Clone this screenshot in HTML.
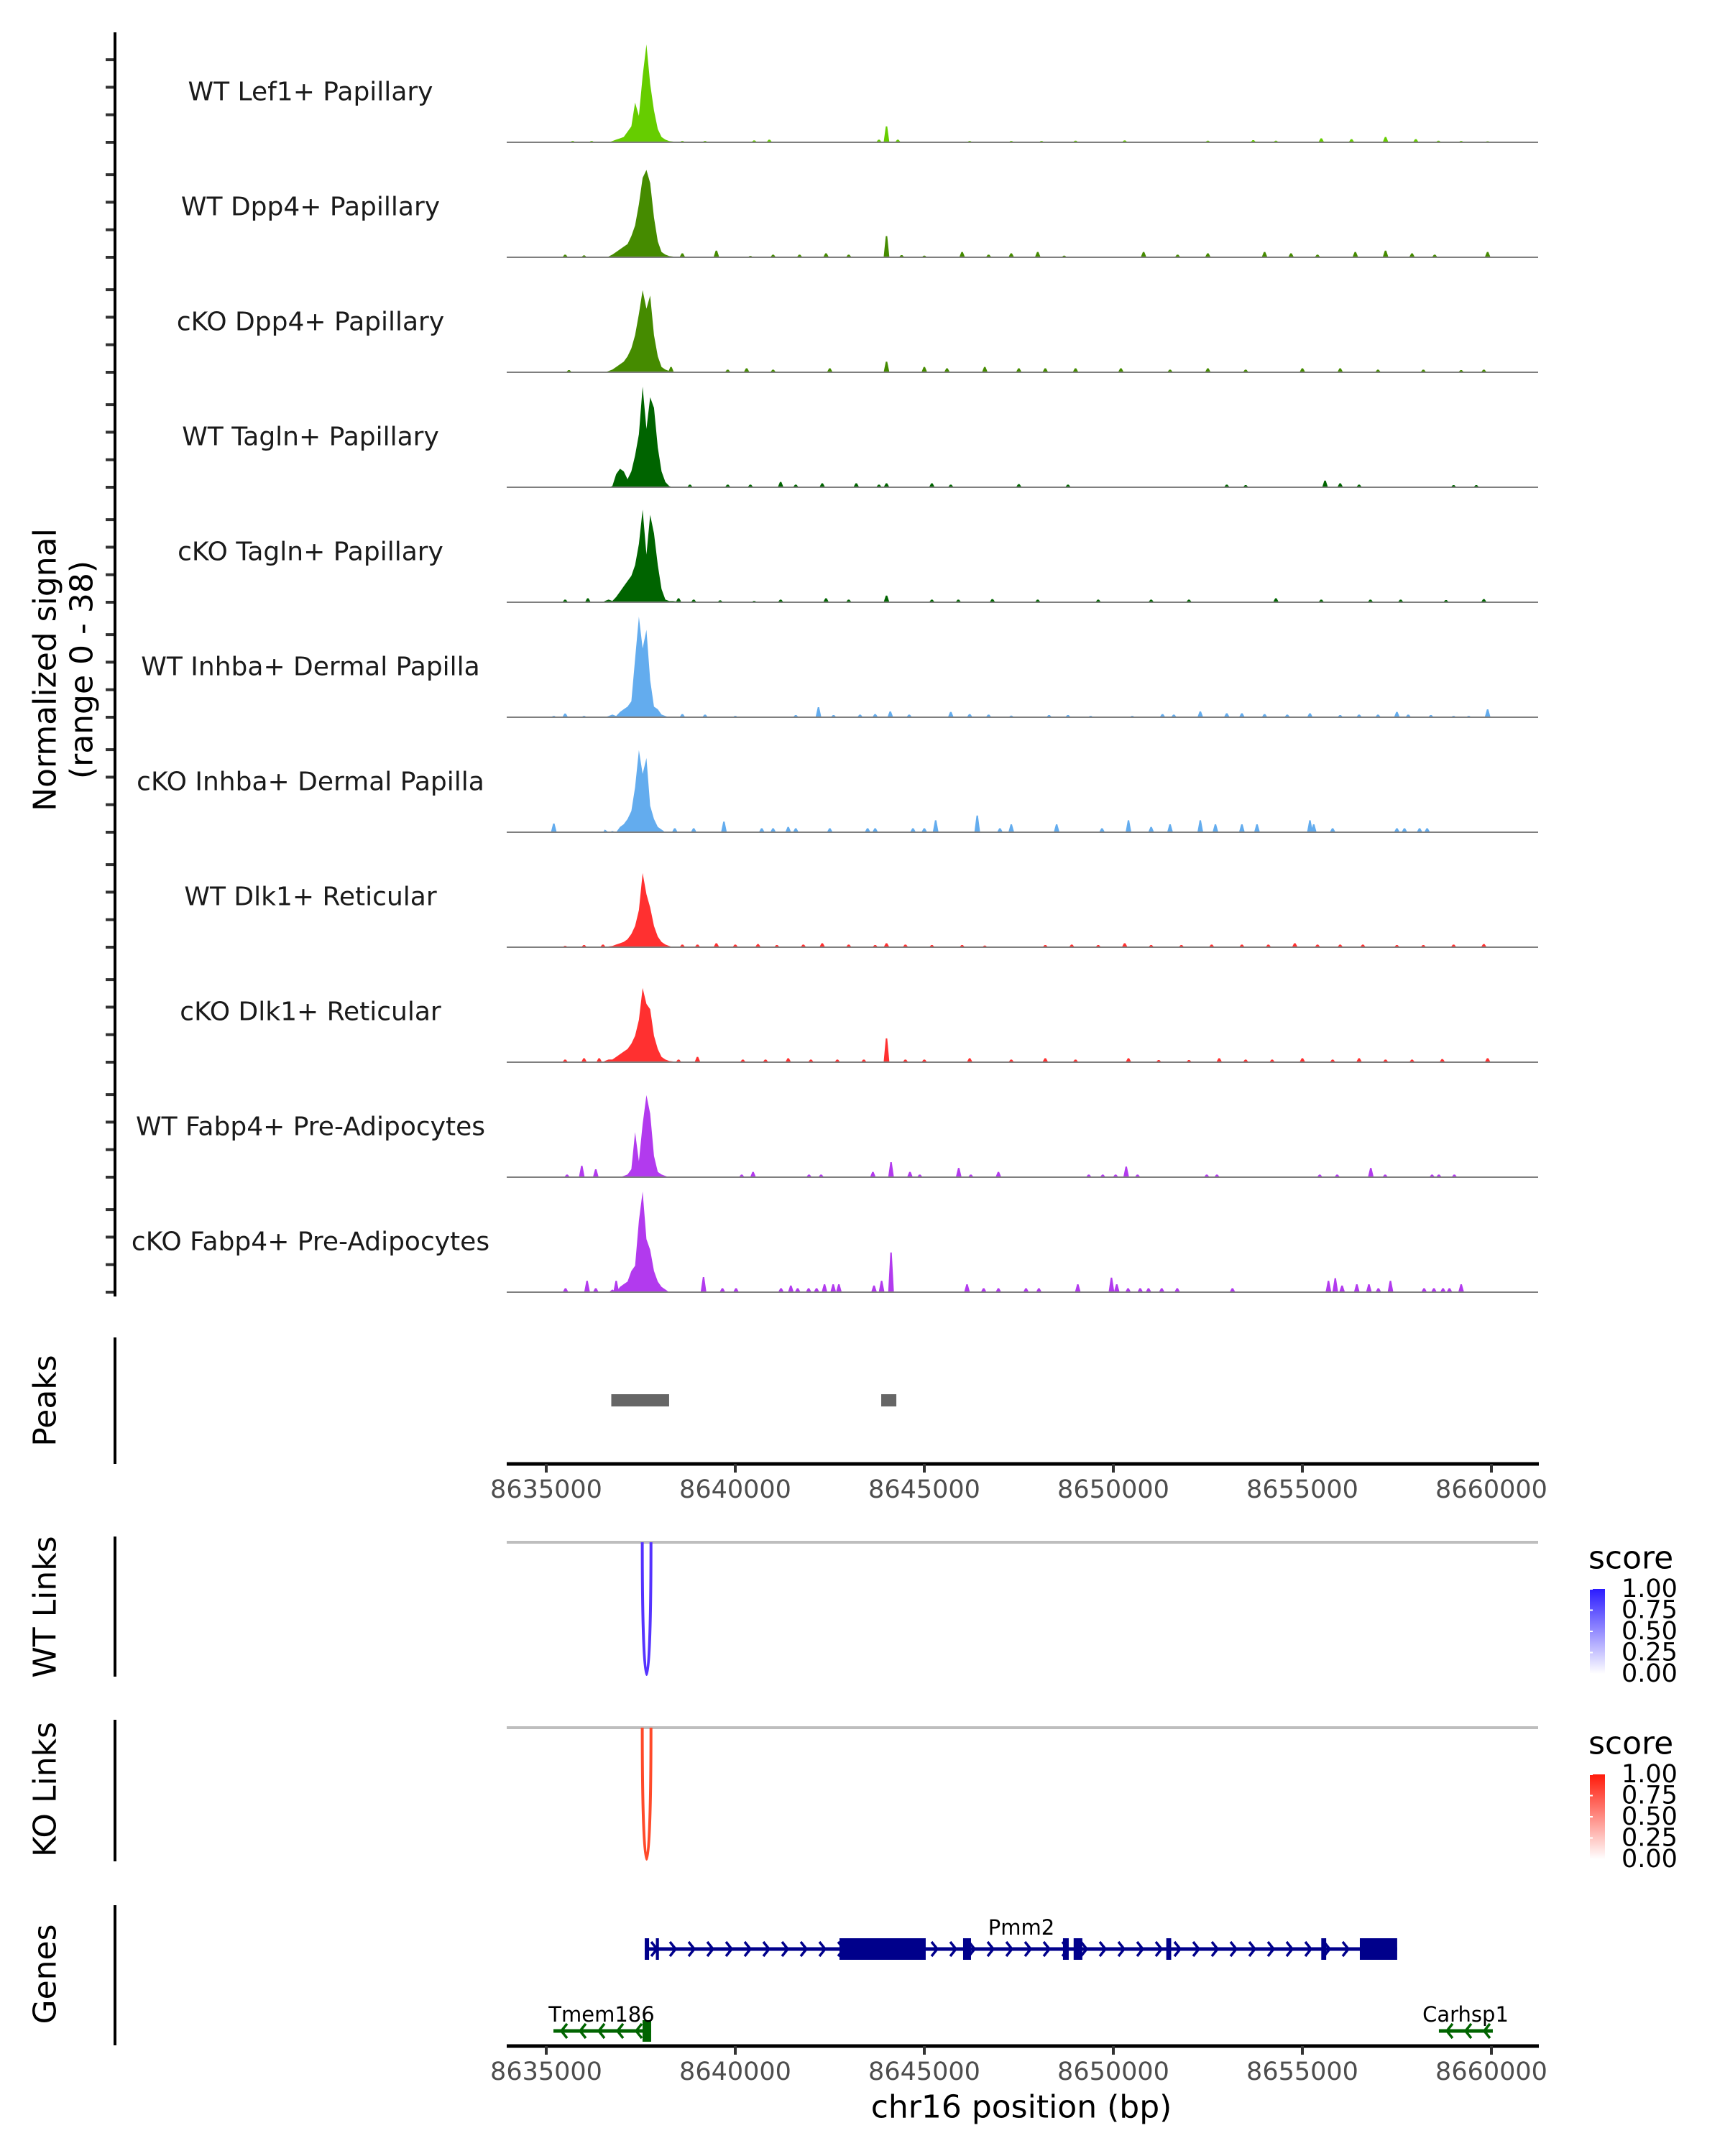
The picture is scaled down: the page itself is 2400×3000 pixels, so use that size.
<!DOCTYPE html>
<html><head><meta charset="utf-8">
<style>
html,body{margin:0;padding:0;background:#fff;}
svg{display:block;font-family:"DejaVu Sans","Liberation Sans",sans-serif;}
</style></head>
<body>
<svg id="chart" width="2400" height="3000" viewBox="0 0 2400 3000" xmlns="http://www.w3.org/2000/svg">
<rect x="0" y="0" width="2400" height="3000" fill="#fff"/>
<g id="g-main"></g>
</svg>
<script>
// ---------- data ----------
const trackNames = ["WT Lef1+ Papillary","WT Dpp4+ Papillary","cKO Dpp4+ Papillary","WT Tagln+ Papillary","cKO Tagln+ Papillary","WT Inhba+ Dermal Papilla","cKO Inhba+ Dermal Papilla","WT Dlk1+ Reticular","cKO Dlk1+ Reticular","WT Fabp4+ Pre-Adipocytes","cKO Fabp4+ Pre-Adipocytes"];
const trackColors = ["#66cd00","#458b00","#458b00","#006400","#006400","#63acee","#63acee","#ff3030","#ff3030","#b23aee","#b23aee"];
// main peak bins: centers 8636550 + 100*i
const mainBinStart = 8636550;
const mainBinStep = 100;
const mainLef1 = [0,0,0.5,1,1.5,2,4,6,15,10,25,37,22,12,5,2,1,0.5,0.3,0,0];
const mainWTDpp4 = [0,0.3,1,2,3,4,5,8,12,20,30,33,28,15,6,2,1,0.5,0.3,0,0];
const mainKODpp4 = [0,0.5,1,2,3,4,6,9,14,22,31,24,29,14,6,2,1,0.5,0.3,0,0];
const mainWTTagln = [0,0,0.5,5,7,6,3,6,12,20,38,22,34,30,15,6,2,0.5,0,0,0];
const mainKOTagln = [0.5,1,0.5,2,4,6,8,10,14,22,35,18,33,26,14,5,1,0.5,0.5,0.3,0];
const mainWTInhba = [0,0.5,1,0.5,2,3,4,6,22,38,26,33,14,4,3,1,0.5,0,0,0,0];
const mainKOInhba = [1,0,0.5,0,2,3,5,8,17,31,22,28,10,5,2,1,0,0,0,0,0];
const mainWTDlk1 = [0,0.3,0.5,1,1.5,2,3,5,8,14,28,20,15,8,4,2,1,0.5,0,0,0];
const mainKODlk1 = [0.5,1,1,2,3,4,5,7,10,16,28,22,20,10,5,2,1,0.5,0.3,0,0];
const mainWTFabp4 = [0,0,0,0,0,0.5,1,3,17,6,20,31,24,8,2,1,0.5,0,0,0,0];
const mainKOFabp4 = [0,0,1,0,2,3,4,8,10,27,38,20,16,8,4,2,1,0,0,0,0];
// small spikes: positions (kb) and heights
const spkPosLef1 = [8635.7,8636.2,8638.6,8639.2,8640.5,8640.9,8643.8,8644.0,8644.3,8646.2,8647.3,8648.1,8649.0,8650.3,8652.5,8653.7,8654.3,8655.5,8656.3,8657.2,8658.0,8658.6,8659.2,8659.9];
const spkValLef1 = [0.5,0.5,0.5,0.5,0.7,1,1,6,1,0.5,0.5,0.5,0.6,0.7,0.6,0.8,0.6,1.5,1.2,2,1.2,0.6,0.5,0.4];
const spkPosWTDpp4 = [8635.5,8636.0,8638.6,8639.5,8640.4,8641.0,8641.7,8642.4,8643.0,8644.0,8644.4,8645.0,8646.0,8646.7,8647.3,8648.0,8648.7,8650.8,8651.7,8652.5,8654.0,8654.7,8655.4,8656.4,8657.2,8657.9,8658.5,8659.9];
const spkValWTDpp4 = [1,0.7,1.5,2.5,0.5,1,1,1.5,1,8,0.8,0.6,2,1,1.5,2,0.6,2,1,1.5,2,1.5,1,2,2.5,1.5,1,2];
const spkPosKODpp4 = [8635.6,8638.3,8639.8,8640.3,8641.0,8642.5,8644.0,8645.0,8645.6,8646.6,8647.5,8648.2,8649.0,8650.2,8651.5,8652.5,8653.5,8655.0,8656.0,8657.0,8658.2,8659.2,8659.8];
const spkValKODpp4 = [0.8,2,1,1.5,1,1.5,4,2,1.5,2,1.5,1.5,1.5,1.5,1,1.5,1,1.5,1.5,1,1,0.8,1];
const spkPosWTTagln = [8638.8,8639.8,8640.4,8641.2,8641.6,8642.3,8643.2,8643.8,8644.0,8645.2,8645.7,8647.5,8648.8,8653.0,8653.5,8655.6,8656.0,8656.5,8659.0,8659.6];
const spkValWTTagln = [1,1,1,2,1,1.5,1.5,1,1.5,1.5,1,1.2,1,1,0.8,2.5,1.5,1,0.8,0.8];
const spkPosKOTagln = [8635.5,8636.1,8638.5,8638.9,8639.6,8640.5,8641.2,8642.4,8643.0,8644.0,8645.2,8645.9,8646.8,8648.0,8649.6,8651.0,8652.0,8654.3,8655.5,8656.8,8657.6,8658.8,8659.8];
const spkValKOTagln = [1,1.5,1.5,1,0.7,0.5,1,1.5,1,2.5,1,1,1.2,1,1,1,1,1.5,1,1,1,0.8,1.2];
const spkPosWTInhba = [8635.2,8635.5,8636.0,8638.6,8639.2,8640.0,8641.6,8642.2,8642.6,8643.3,8643.7,8644.1,8644.6,8645.7,8646.2,8646.7,8647.3,8648.3,8648.8,8649.4,8650.5,8651.3,8651.6,8652.3,8653.0,8653.4,8654.0,8654.6,8655.2,8656.0,8656.5,8657.0,8657.5,8657.8,8658.4,8659.0,8659.4,8659.9];
const spkValWTInhba = [0.5,1.4,0.5,1.2,1,0.5,0.8,3.8,0.8,1,1.2,2.2,1,2,1.2,1,0.6,0.8,0.8,0.5,0.5,1.2,1,2.2,1.5,1.5,1.2,1,1.5,0.8,1,1,2,1,0.8,0.5,0.5,3];
const spkPosKOInhba = [8635.2,8638.4,8638.9,8639.7,8640.7,8641.0,8641.4,8641.6,8642.5,8643.5,8643.7,8644.7,8645.0,8645.3,8646.4,8647.0,8647.3,8648.5,8649.7,8650.4,8651.0,8651.5,8652.3,8652.7,8653.4,8653.8,8655.2,8655.3,8655.8,8657.5,8657.7,8658.1,8658.3];
const spkValKOInhba = [3.3,1.5,1.5,4,1.5,1.5,2,1.5,1.5,1.5,1.5,1.5,1.5,4.5,6.3,1.5,3,3,1.5,4.5,2,3,4.5,3,3,3,4.5,3,1.5,1.5,1.5,1.5,1.5];
const spkPosWTDlk1 = [8635.5,8636.0,8636.5,8638.6,8639.0,8639.5,8640.0,8640.6,8641.1,8641.8,8642.3,8643.0,8643.7,8644.0,8644.5,8645.2,8646.0,8646.6,8648.2,8648.9,8649.6,8650.3,8651.0,8651.8,8652.6,8653.4,8654.1,8654.8,8655.4,8656.0,8656.6,8657.5,8658.2,8659.0,8659.8];
const spkValWTDlk1 = [0.5,0.8,1,1,1,1.5,1,1.2,0.8,1,1.5,1,0.8,1.5,1,0.8,0.8,0.6,0.8,1,0.8,1.5,0.8,0.8,1,1,1,1.5,1,1,1,0.8,0.8,1,1.2];
const spkPosKODlk1 = [8635.5,8636.0,8636.4,8638.5,8639.0,8640.2,8640.8,8641.4,8642.0,8642.7,8643.4,8644.0,8644.5,8645.0,8646.2,8647.3,8648.2,8649.0,8650.4,8651.2,8652.0,8652.8,8653.5,8654.2,8655.0,8655.8,8656.5,8657.2,8657.9,8658.7,8659.9];
const spkValKODlk1 = [1,1.5,1.5,1,2,1,1,1.5,1,1,1,9,1,1,1.5,1,1.5,1,1.5,0.8,0.8,1.5,1,1,1.5,1,1.5,1,1,1.2,1.5];
const spkPosWTFabp4 = [8635.55,8635.94,8636.31,8640.17,8640.47,8641.95,8642.27,8643.64,8644.12,8644.62,8644.88,8645.91,8646.23,8646.96,8649.35,8649.72,8650.06,8650.34,8650.64,8652.47,8652.74,8655.46,8655.92,8656.81,8657.19,8658.43,8658.61,8659.02];
const spkValWTFabp4 = [1,4.3,3,1,2,1,1,2,5.7,2,1,3.5,1,2,1,1,1,4,1,1,1,1,1,3.5,1,1,1,1];
const spkPosKOFabp4 = [8635.51,8636.08,8636.31,8636.85,8639.16,8639.66,8640.02,8641.21,8641.47,8641.65,8641.94,8642.15,8642.36,8642.59,8642.74,8643.67,8643.87,8644.12,8646.13,8646.57,8646.96,8647.69,8648.03,8649.06,8649.95,8650.09,8650.39,8650.71,8650.93,8651.28,8651.69,8653.15,8655.69,8655.87,8656.05,8656.44,8656.76,8657.01,8657.33,8658.22,8658.48,8658.72,8658.89,8659.2];
const spkValKOFabp4 = [1.5,4.3,1.5,4.3,5.7,1.5,1.5,1.5,2.5,1.5,1.5,1.5,3,3,3,2.5,4.3,15,3,1.5,1.5,1.5,1.5,3,5.5,3,1.5,1.5,1.5,1.5,1.5,1.5,4.3,5.3,2.5,3,3,1.5,4.3,1.5,1.5,1.5,1.5,3];
const mainProfiles = [mainLef1,mainWTDpp4,mainKODpp4,mainWTTagln,mainKOTagln,mainWTInhba,mainKOInhba,mainWTDlk1,mainKODlk1,mainWTFabp4,mainKOFabp4];
const spikePositions = [spkPosLef1,spkPosWTDpp4,spkPosKODpp4,spkPosWTTagln,spkPosKOTagln,spkPosWTInhba,spkPosKOInhba,spkPosWTDlk1,spkPosKODlk1,spkPosWTFabp4,spkPosKOFabp4];
const spikeValues = [spkValLef1,spkValWTDpp4,spkValKODpp4,spkValWTTagln,spkValKOTagln,spkValWTInhba,spkValKOInhba,spkValWTDlk1,spkValKODlk1,spkValWTFabp4,spkValKOFabp4];
const peakStarts = [8636720, 8643860];
const peakEnds = [8638250, 8644260];
const xTicks = [8635000,8640000,8645000,8650000,8655000,8660000];
const linkStartWT = [8637540]; const linkEndWT = [8637770]; const linkScoreWT = [0.85];
const linkStartKO = [8637540]; const linkEndKO = [8637770]; const linkScoreKO = [0.85];
const legendTicks = ["1.00","0.75","0.50","0.25","0.00"];
const pmm2Exons = [[8637605,8637720],[8637900,8637980],[8642756,8645037],[8646026,8646235],[8648668,8648820],[8648950,8649180],[8651400,8651530],[8655500,8655630],[8656520,8657508]];
const pmm2Range = [8637605, 8657508];
const tmemRange = [8635190, 8637775];
const tmemExons = [[8637547,8637775]];
const carRange = [8658611, 8660037];
const carExons = [];

// ---------- scales ----------
const X0 = 760, PX_PER_BP = 1315/25000;
function xs(bp){ return X0 + (bp - 8635000)*PX_PER_BP; }
const UNIT = 140/38;
function baseY(i){ return 198 + 160*i; }
const NS = "http://www.w3.org/2000/svg";
const g = document.getElementById('g-main');
function mk(tag, attrs, parent){ const e=document.createElementNS(NS,tag); for(const k in attrs) e.setAttribute(k,attrs[k]); (parent||g).appendChild(e); return e; }

// ---------- signal tracks ----------
for(let i=0;i<trackNames.length;i++){
  const b = baseY(i);
  const col = trackColors[i];
  const tg = mk('g',{});
  
  
  // main peak
  let pts = [];
  const prof = mainProfiles[i];
  pts.push([xs(mainBinStart-50), b]);
  for(let k=0;k<prof.length;k++){ pts.push([xs(mainBinStart+k*mainBinStep), b - prof[k]*UNIT]); }
  pts.push([xs(mainBinStart+(prof.length-1)*mainBinStep+50), b]);
  const mp = mk('polygon',{points: pts.map(p=>p[0].toFixed(1)+','+p[1].toFixed(1)).join(' '), fill: col}, tg);
  
  
  // spikes
  const sp = spikePositions[i], sv = spikeValues[i];
  for(let k=0;k<sp.length;k++){
    const cx = xs(sp[k]*1000), h = sv[k]*UNIT;
    const s = mk('polygon',{points: (cx-4)+','+b+' '+(cx-1)+','+(b-h)+' '+(cx+1)+','+(b-h)+' '+(cx+4)+','+b, fill: col}, tg);
    
    
  }
  const bl = mk('line',{x1:705,x2:2140,y1:b,y2:b,stroke:'#7f7f7f','stroke-width':2}, tg);
  
  
  const lt = mk('text',{x:432,y:b-70,'font-size':36,'text-anchor':'middle','dominant-baseline':'central',fill:'#1a1a1a'}, tg);
  lt.textContent = trackNames[i];
  
  
  for(let t=0;t<4;t++){
    const ty = b - t*38.3;
    const tk = mk('line',{x1:147,x2:160,y1:ty,y2:ty,stroke:'#333','stroke-width':4}, tg);
    
    
  }
}
function vline(x,y1,y2,name){ const l=mk('line',{x1:x,x2:x,y1:y1,y2:y2,stroke:'#000','stroke-width':4});   return l; }
vline(160,45,1804,'signal-y-axis');
function rotLabel(text,x,y,name,size){ const t=mk('text',{x:0,y:0,'font-size':size||44,'text-anchor':'middle','dominant-baseline':'central',fill:'#000',transform:'translate('+x+','+y+') rotate(-90)'}); t.textContent=text;   return t; }
rotLabel('Normalized signal',63,932,'y-axis-title-line1');
rotLabel('(range 0 - 38)',114,932,'y-axis-title-line2');

// ---------- peaks ----------
vline(160,1861,2037,'peaks-y-axis');
rotLabel('Peaks',63,1949,'peaks-label');
for(let k=0;k<peakStarts.length;k++){
  const r = mk('rect',{x:xs(peakStarts[k]),y:1940,width:xs(peakEnds[k])-xs(peakStarts[k]),height:17,fill:'#666666'});
  
  
}
function xAxis(y, nameBase){
  const a = mk('line',{x1:705,x2:2141,y1:y,y2:y,stroke:'#000','stroke-width':5});
  
  
  for(const t of xTicks){
    const tk = mk('line',{x1:xs(t),x2:xs(t),y1:y,y2:y+12,stroke:'#333','stroke-width':4});
    
    
    const tl = mk('text',{x:xs(t),y:y+36,'font-size':35,'text-anchor':'middle','dominant-baseline':'central',fill:'#4d4d4d'});
    tl.textContent = String(t);
    
    
  }
}
xAxis(2037,'peaks-x-axis');

// ---------- links ----------
function linksPanel(top, bottom, starts, ends, color, gradTop, legendY, label, labelY, axisTop, axisBottom, gid){
  vline(160,axisTop,axisBottom,label.replace(' ','-').toLowerCase()+'-y-axis');
  rotLabel(label,63,labelY,label.replace(' ','-').toLowerCase()+'-label');
  const gl = mk('line',{x1:705,x2:2140,y1:top,y2:top,stroke:'#bebebe','stroke-width':4});
  
  
  for(let k=0;k<starts.length;k++){
    const x1=xs(starts[k]), x2=xs(ends[k]);
    const cy = top + (bottom-top)/0.75;
    const p = mk('path',{d:'M'+x1+','+top+' C'+x1+','+cy+' '+x2+','+cy+' '+x2+','+top,fill:'none',stroke:color,'stroke-width':4});
    
    
  }
  const defs = mk('defs',{});
  const lg = mk('linearGradient',{id:gid,x1:0,y1:0,x2:0,y2:1},defs);
  mk('stop',{offset:0,'stop-color':gradTop},lg);
  mk('stop',{offset:1,'stop-color':'#ffffff'},lg);
  const lt = mk('text',{x:2210,y:legendY,'font-size':44,'dominant-baseline':'central',fill:'#000'});
  lt.textContent='score';
  
  
  const by = legendY+43;
  const bar = mk('rect',{x:2212,y:by,width:21,height:118,fill:'url(#'+gid+')'});
  
  
  for(let k=0;k<legendTicks.length;k++){
    const ty = by + k*29.5;
    const t = mk('text',{x:2256,y:ty,'font-size':35,'dominant-baseline':'central',fill:'#000'});
    t.textContent = legendTicks[k];
    
    
    const tk1 = mk('line',{x1:2212,x2:2216,y1:ty,y2:ty,stroke:'#fff','stroke-width':2});
    
    
  }
}
linksPanel(2146,2330,linkStartWT,linkEndWT,'#5533ff','#2b1bff',2168,'WT Links',2236,2138,2333,'gradWT');
linksPanel(2404,2587,linkStartKO,linkEndKO,'#ff4a2a','#ff1a0a',2426,'KO Links',2490,2393,2590,'gradKO');

// ---------- genes ----------
vline(160,2651,2846,'genes-y-axis');
rotLabel('Genes',63,2747,'genes-label');
function gene(name, range, exons, y, color, dir, labelX, labelY){
  const gg = mk('g',{});
  
  
  const l = mk('line',{x1:xs(range[0]),x2:xs(range[1]),y1:y,y2:y,stroke:color,'stroke-width':5},gg);
  
  
  const x1 = xs(range[0]), x2 = xs(range[1]);
  for(let cx = x1+14; cx < x2-6; cx += 26){
    const d = dir>0 ? 'M'+(cx-5)+','+(y-10)+' L'+(cx+3)+','+y+' L'+(cx-5)+','+(y+10) : 'M'+(cx+5)+','+(y-10)+' L'+(cx-3)+','+y+' L'+(cx+5)+','+(y+10);
    const c = mk('path',{d:d,fill:'none',stroke:color,'stroke-width':3.5},gg);
    
    
  }
  for(const e of exons){
    const r = mk('rect',{x:xs(e[0]),y:y-15,width:Math.max(4,xs(e[1])-xs(e[0])),height:30,fill:color},gg);
    
    
  }
  const t = mk('text',{x:labelX,y:labelY,'font-size':29,'text-anchor':'middle','dominant-baseline':'central',fill:'#000'},gg);
  t.textContent = name;
  
  
}
gene('Pmm2', pmm2Range, pmm2Exons, 2712, '#00008b', 1, 1421, 2682);
gene('Tmem186', tmemRange, tmemExons, 2826, '#006400', -1, 837, 2803);
gene('Carhsp1', carRange, carExons, 2826, '#006400', -1, 2039, 2803);
xAxis(2847,'genes-x-axis');
const xt = mk('text',{x:1421,y:2932,'font-size':44,'text-anchor':'middle','dominant-baseline':'central',fill:'#000'});
xt.textContent = 'chr16 position (bp)';


</script>
</body></html>
